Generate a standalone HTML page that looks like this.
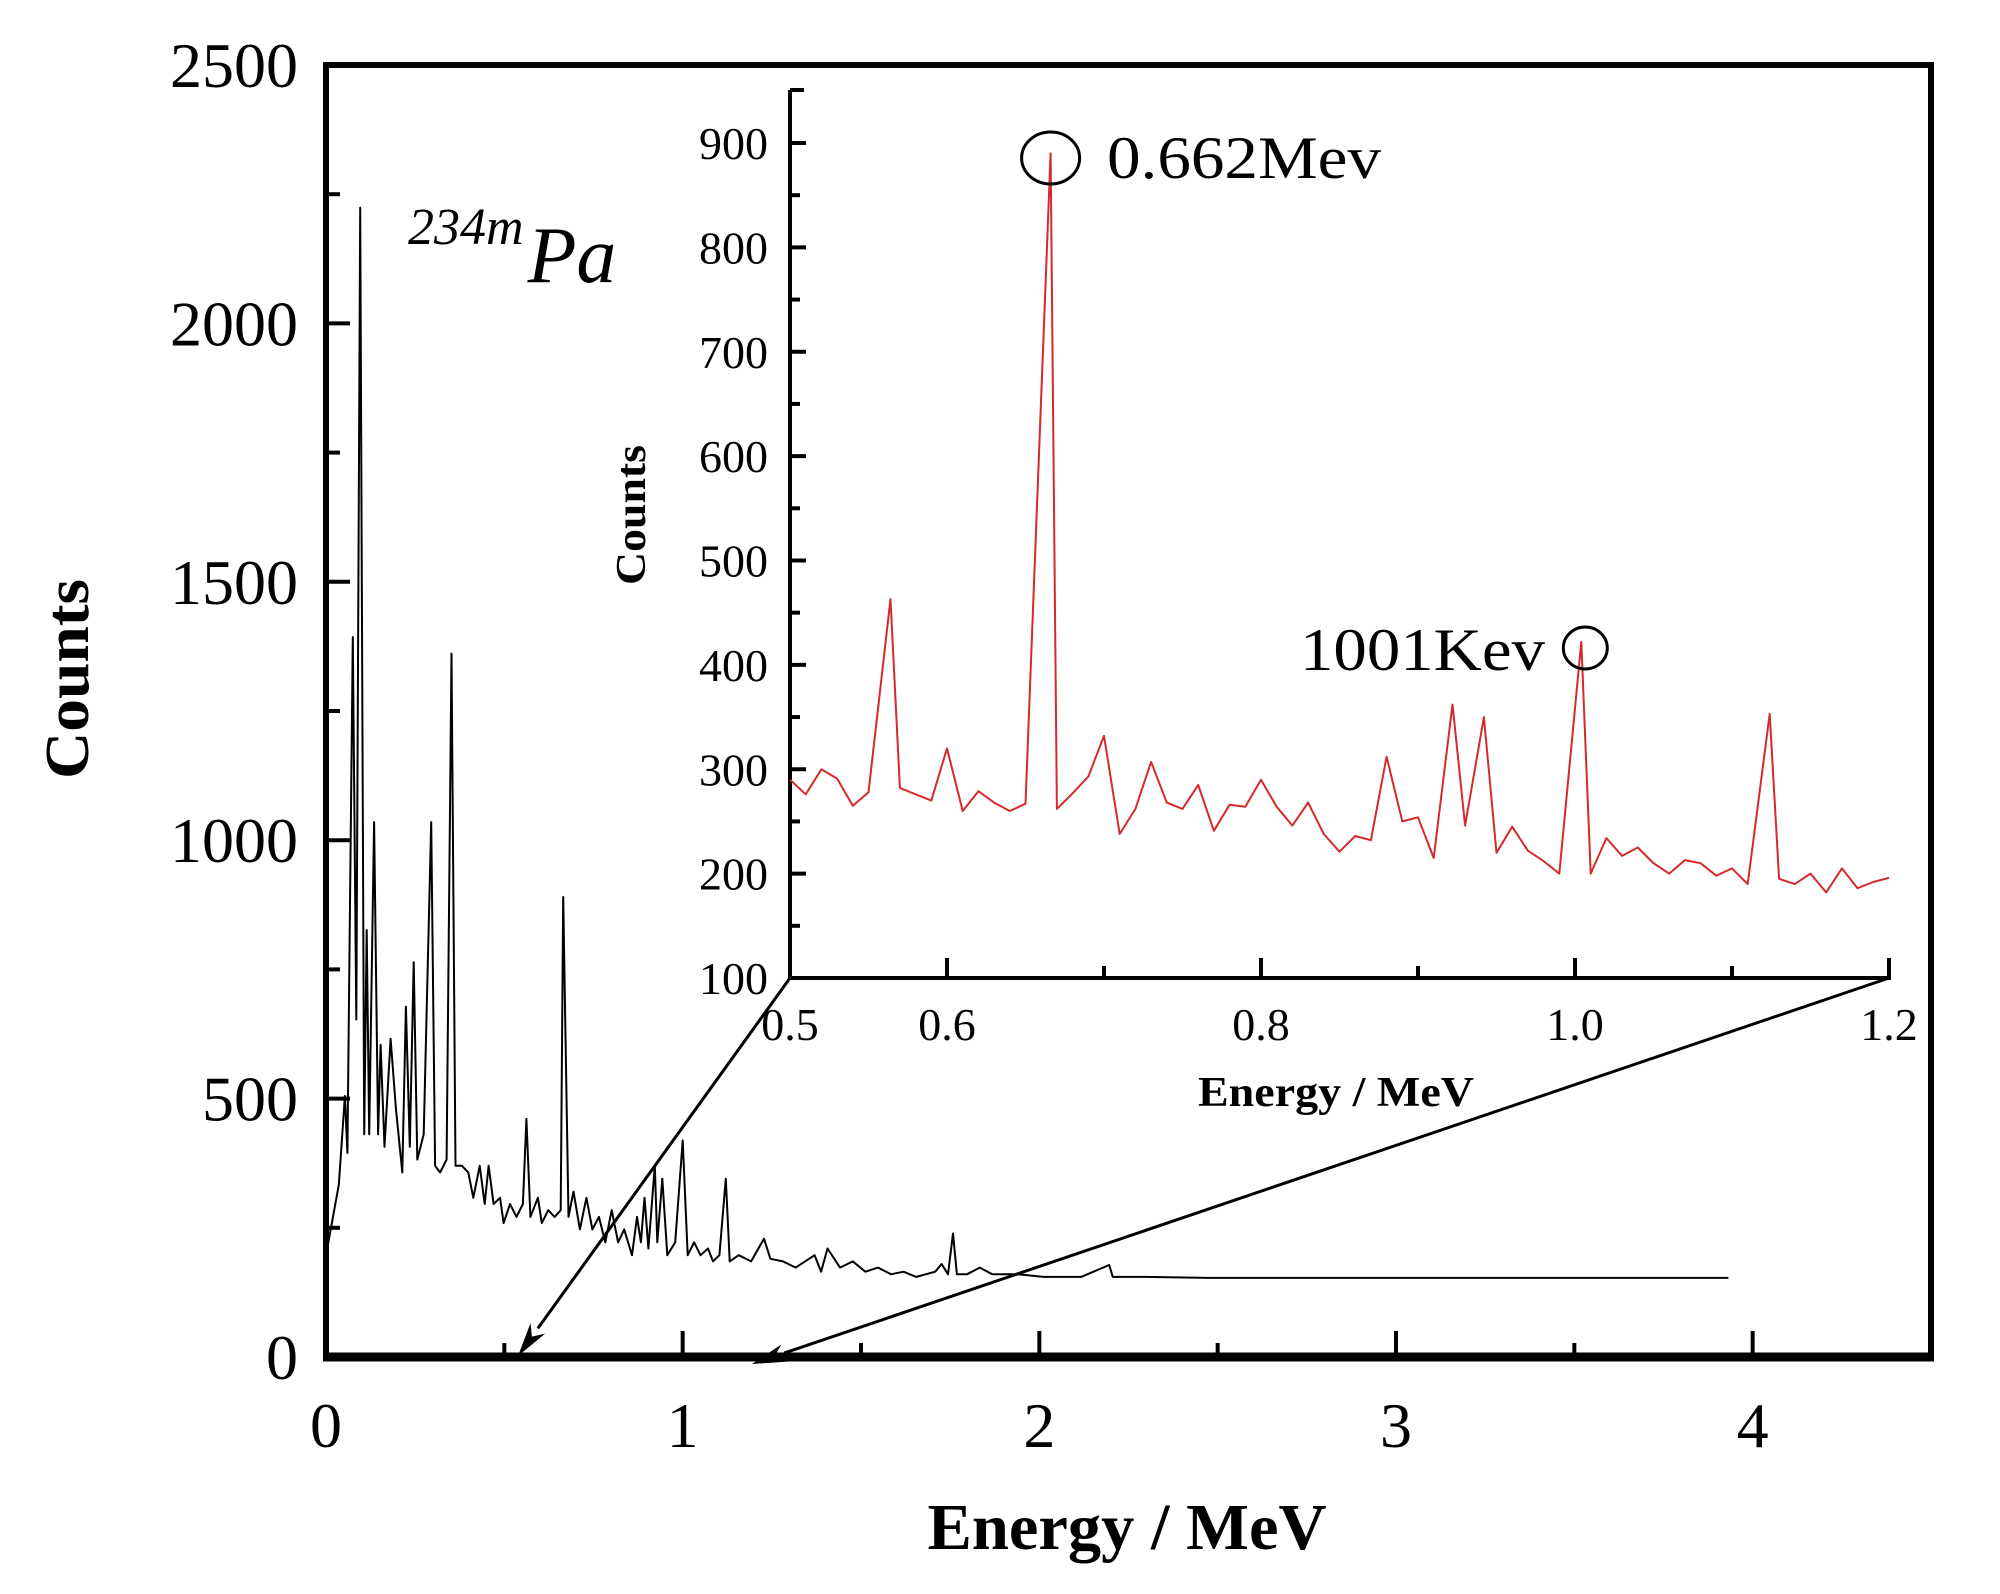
<!DOCTYPE html>
<html><head><meta charset="utf-8">
<style>
html,body{margin:0;padding:0;background:#fff;}
svg{display:block;}
svg text{font-family:"Liberation Serif","Times New Roman",serif;}
</style></head>
<body>
<svg id="chart" width="2000" height="1594" viewBox="0 0 2000 1594" xmlns="http://www.w3.org/2000/svg" font-family="Liberation Serif, serif">
<g id="main"></g>
<g id="inset"></g>
</svg>
<script>
// ---- main spectrum data ----
const mainE = [0,0.036,0.053,0.060,0.075,0.085,0.096,0.107,0.114,0.121,0.135,0.146,0.153,0.164,0.181,0.196,0.214,0.224,0.235,0.246,0.256,0.274,0.295,0.306,0.320,0.338,0.352,0.363,0.381,0.399,0.413,0.431,0.445,0.456,0.470,0.488,0.498,0.516,0.534,0.552,0.562,0.573,0.594,0.605,0.623,0.641,0.658,0.665,0.680,0.694,0.712,0.730,0.747,0.765,0.783,0.801,0.819,0.836,0.858,0.872,0.883,0.893,0.904,0.922,0.929,0.943,0.957,0.979,1.0,1.014,1.032,1.050,1.071,1.085,1.103,1.121,1.132,1.157,1.192,1.228,1.246,1.281,1.317,1.370,1.388,1.406,1.441,1.477,1.512,1.548,1.584,1.619,1.655,1.708,1.726,1.744,1.758,1.769,1.797,1.833,1.868,1.940,2.011,2.117,2.196,2.206,2.295,2.473,3.932];
const mainCounts = [197,333,505,395,1393,653,2224,431,826,431,1035,431,604,407,616,481,357,678,407,764,382,431,1035,370,357,382,1361,370,370,357,308,370,296,370,296,308,259,296,271,296,461,271,308,259,284,271,284,890,271,320,247,308,247,271,222,284,222,247,197,271,222,308,210,370,222,345,197,222,419,197,222,197,210,185,197,345,185,197,185,229,190,185,173,197,165,210,173,185,165,173,160,165,155,165,180,160,239,160,160,173,160,160,155,155,178,155,155,153,153];
const mainXTicks = [0,1,2,3,4];
const mainYTicks = [0,500,1000,1500,2000,2500];
// ---- inset data ----
const insetE = [0.50,0.51,0.52,0.53,0.54,0.55,0.564,0.57,0.58,0.59,0.60,0.61,0.62,0.63,0.64,0.65,0.666,0.67,0.68,0.69,0.70,0.71,0.72,0.73,0.74,0.75,0.76,0.77,0.78,0.79,0.80,0.81,0.82,0.83,0.84,0.85,0.86,0.87,0.88,0.89,0.90,0.91,0.922,0.93,0.942,0.95,0.96,0.97,0.98,0.99,1.004,1.01,1.02,1.03,1.04,1.05,1.06,1.07,1.08,1.09,1.10,1.11,1.124,1.13,1.14,1.15,1.16,1.17,1.18,1.19,1.20];
const insetCounts = [290,276,300,291,265,278,463,282,276,270,320,260,279,268,260,267,890,262,277,293,332,238,262,307,268,262,285,241,266,264,290,264,246,268,238,221,236,232,312,250,254,215,362,246,350,220,245,222,212,200,422,200,234,217,225,210,200,213,210,198,205,190,353,195,190,200,182,205,186,192,196];
const insetXTicks = ["0.5","0.6","0.8","1.0","1.2"];
const insetYTicks = [100,200,300,400,500,600,700,800,900];

const NS="http://www.w3.org/2000/svg";
const FF='"Liberation Serif", serif';
function mk(parent,tag,attrs,text){const e=document.createElementNS(NS,tag);for(const k in attrs)e.setAttribute(k,attrs[k]);if(tag==='text')e.setAttribute('font-family','Liberation Serif');if(text!==undefined)e.textContent=text;parent.appendChild(e);return e;}

// main axes
const MX0=326,MX1=1931,MY0=1357,MY1=65;
const mx=e=>MX0+e*(MX1-MX0)/4.5;
const my=c=>MY0-c*(MY0-MY1)/2500;
const g=document.getElementById('main');

let fr=mk(g,'rect',{x:MX0,y:MY1,width:MX1-MX0,height:MY0-MY1,fill:'none',stroke:'#000','stroke-width':6});


let bl=mk(g,'line',{x1:MX0-3,x2:MX1+3,y1:MY0,y2:MY0,stroke:'#000','stroke-width':9});



for(let v=0;v<=4.5;v+=0.5){
  const major=Math.abs(v-Math.round(v))<1e-6;
  const t=mk(g,'line',{x1:mx(v),x2:mx(v),y1:MY0,y2:MY0-(major?26:14),stroke:'#000','stroke-width':4});
  
  
}
mainXTicks.forEach(v=>{
  const t=mk(g,'text',{x:mx(v),y:1447,'font-size':64,'text-anchor':'middle'},String(v));
  
  
});
for(let v=0;v<=2500;v+=250){
  const major=v%500===0;
  const t=mk(g,'line',{x1:MX0,x2:MX0+(major?24:14),y1:my(v),y2:my(v),stroke:'#000','stroke-width':4});
  
  
}
mainYTicks.forEach(v=>{
  const t=mk(g,'text',{x:298,y:my(v)+22,'font-size':64,'text-anchor':'end'},String(v));
  
  
});
let xt=mk(g,'text',{x:1127,y:1549,'font-size':66,'font-weight':'bold','text-anchor':'middle',textLength:399,lengthAdjust:'spacingAndGlyphs'},'Energy / MeV');


let yt=mk(g,'text',{x:0,y:0,'font-size':62,'font-weight':'bold','text-anchor':'middle',transform:'translate(88,679) rotate(-90)',textLength:200,lengthAdjust:'spacingAndGlyphs'},'Counts');



let mainPts=mainE.map((e,i)=>mx(e).toFixed(1)+','+my(mainCounts[i]).toFixed(1)).join(' ');
let ml=mk(g,'polyline',{points:mainPts,fill:'none',stroke:'#000','stroke-width':2,'stroke-linejoin':'round'});



let iso=mk(g,'text',{x:408,y:282,'font-style':'italic','font-size':80},'');


mk(iso,'tspan',{'font-size':52,dy:-38},'234m');
mk(iso,'tspan',{dy:38,dx:4},'Pa');

// inset axes
const IX0=790,IX1=1889,IY0=978,IY1=90;
const ix=e=>IX0+(e-0.5)*(IX1-IX0)/0.7;
const iy=c=>IY0-(c-100)*(IY0-143)/800;
const h=document.getElementById('inset');

let a1=mk(h,'line',{x1:IX0,x2:IX0,y1:IY1,y2:IY0+2,stroke:'#000','stroke-width':4});


let a2=mk(h,'line',{x1:IX0-2,x2:IX1+2,y1:IY0,y2:IY0,stroke:'#000','stroke-width':4});


let tp=mk(h,'line',{x1:IX0,x2:IX0+14,y1:IY1,y2:IY1,stroke:'#000','stroke-width':4});


for(let v=100;v<=900;v+=50){
  const major=v%100===0;
  const t=mk(h,'line',{x1:IX0,x2:IX0+(major?16:10),y1:iy(v),y2:iy(v),stroke:'#000','stroke-width':4});
  
  
}
insetYTicks.forEach(v=>{
  const t=mk(h,'text',{x:768,y:iy(v)+16,'font-size':46,'text-anchor':'end'},String(v));
  
  
});
for(let k=0;k<=7;k++){
  const v=0.5+k*0.1;
  const major=k%2===1;
  const t=mk(h,'line',{x1:ix(v),x2:ix(v),y1:IY0,y2:IY0-(major?20:12),stroke:'#000','stroke-width':4});
  
  
}
insetXTicks.forEach(s=>{
  const t=mk(h,'text',{x:ix(parseFloat(s)),y:1040,'font-size':46,'text-anchor':'middle'},s);
  
  
});
let ixt=mk(h,'text',{x:1336,y:1106,'font-size':42,'font-weight':'bold','text-anchor':'middle',textLength:276,lengthAdjust:'spacingAndGlyphs'},'Energy / MeV');


let iyt=mk(h,'text',{x:0,y:0,'font-size':42,'font-weight':'bold','text-anchor':'middle',transform:'translate(645,515) rotate(-90)',textLength:140,lengthAdjust:'spacingAndGlyphs'},'Counts');



let insetPts=insetE.map((e,i)=>ix(e).toFixed(1)+','+iy(insetCounts[i]).toFixed(1)).join(' ');
let il=mk(h,'polyline',{points:insetPts,fill:'none',stroke:'#d42a2a','stroke-width':2,'stroke-linejoin':'round'});



let c1=mk(h,'ellipse',{cx:ix(0.666),cy:158,rx:29,ry:26,fill:'none',stroke:'#000','stroke-width':3});


let l1=mk(h,'text',{x:1107,y:178,'font-size':60,textLength:274,lengthAdjust:'spacingAndGlyphs'},'0.662Mev');


let c2=mk(h,'ellipse',{cx:ix(1.004)+4,cy:648,rx:22,ry:21,fill:'none',stroke:'#000','stroke-width':3});


let l2=mk(h,'text',{x:1300,y:670,'font-size':60,textLength:245,lengthAdjust:'spacingAndGlyphs'},'1001Kev');



// zoom arrows
function arrow(x1,y1,x2,y2,name){
  const ang=Math.atan2(y2-y1,x2-x1),L=34,W=9;
  const bx=x2-L*Math.cos(ang),by=y2-L*Math.sin(ang);
  const ln=mk(g,'line',{x1:x1,y1:y1,x2:bx,y2:by,stroke:'#000','stroke-width':3});
  
  
  const px=-Math.sin(ang)*W,py=Math.cos(ang)*W;
  const hd=mk(g,'polygon',{points:`${x2},${y2} ${bx+px},${by+py} ${bx+0.3*L*Math.cos(ang)},${by+0.3*L*Math.sin(ang)} ${bx-px},${by-py}`,fill:'#000'});
  
  
}
arrow(IX0,IY0,518,1356,'zoom-arrow-left');
arrow(IX1,IY0,752,1364,'zoom-arrow-right');
</script>
</body></html>
